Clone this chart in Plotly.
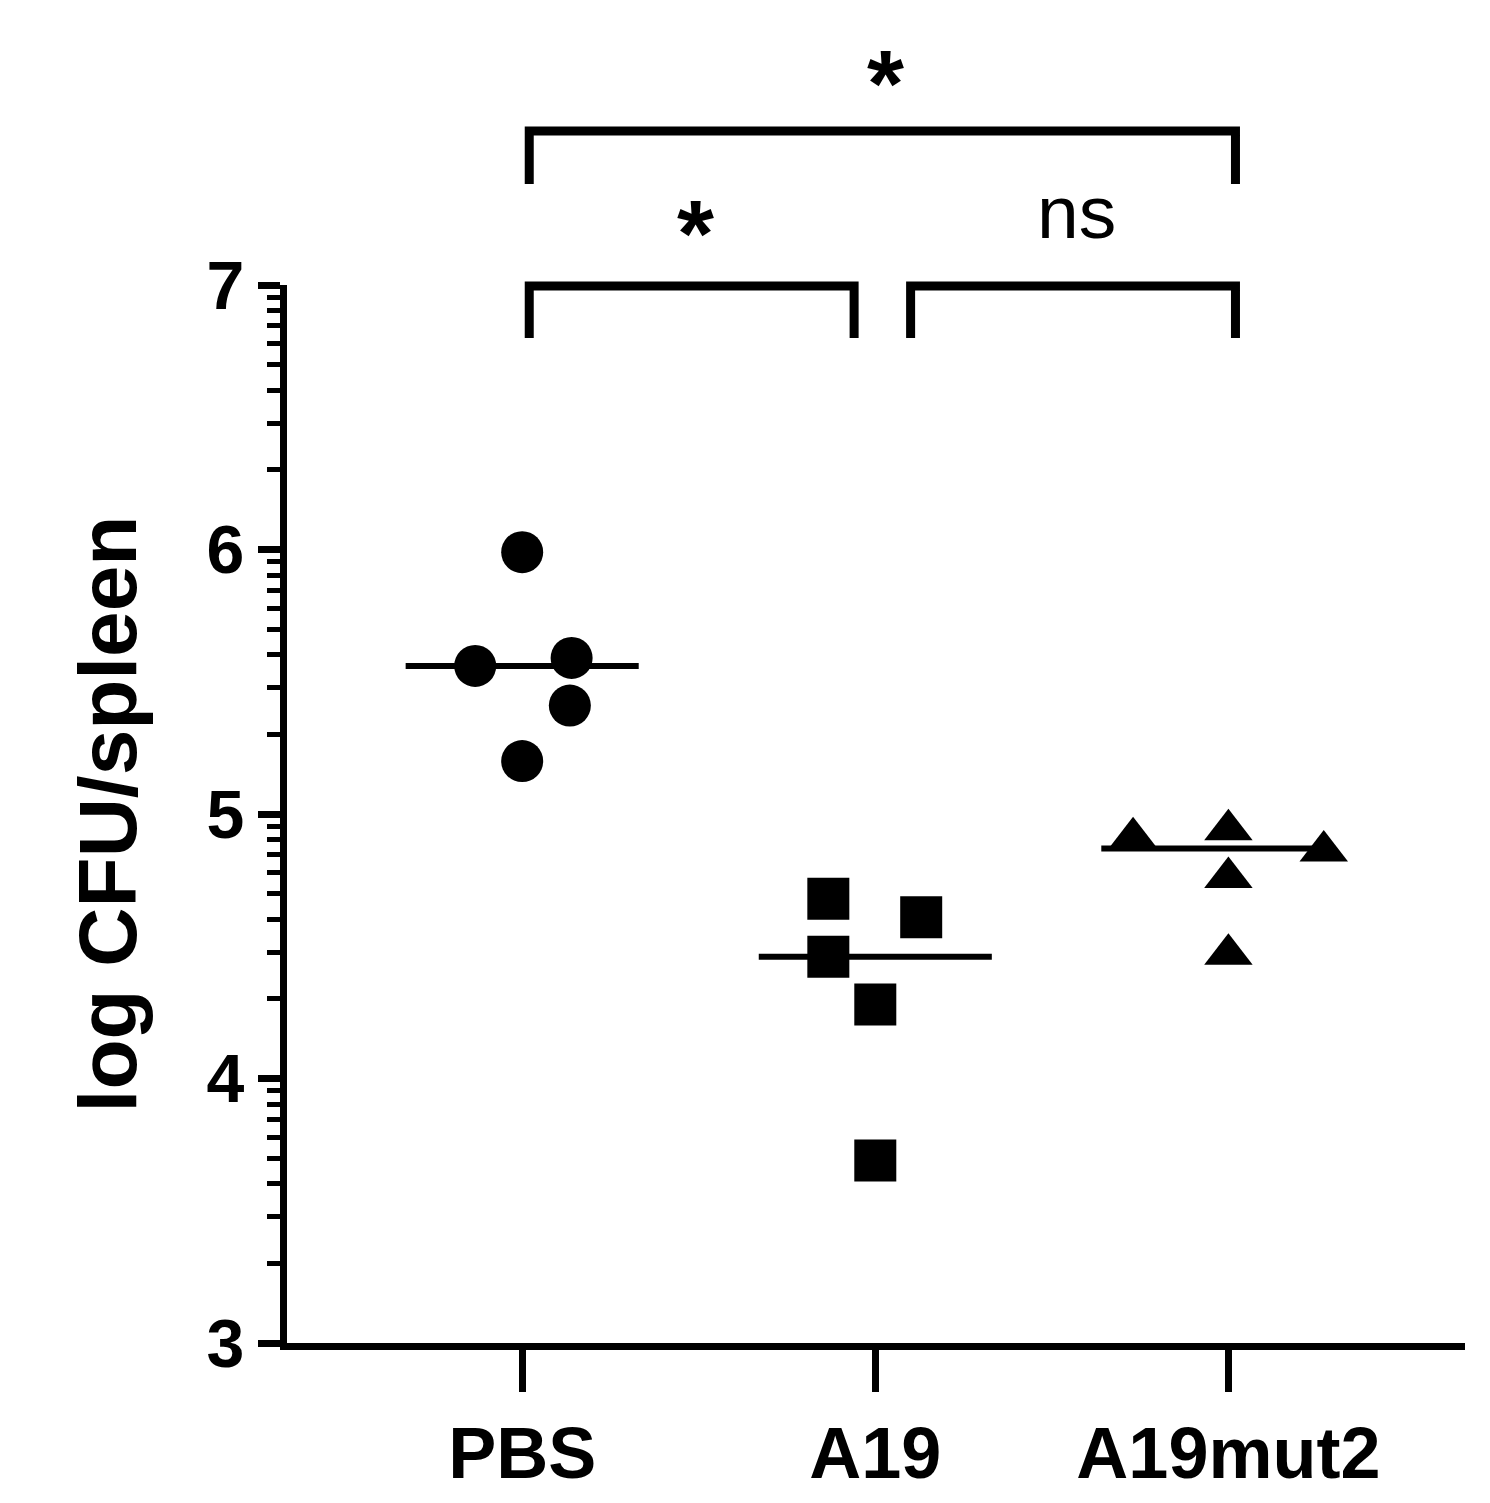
import plotly.graph_objects as go
import numpy as np

groups = ["PBS", "A19", "A19mut2"]
pbs_x = [0, -0.133, 0.14, 0.135, 0]
pbs_y = [5.99, 5.56, 5.59, 5.41, 5.20]
a19_x = [-0.133, 0.13, -0.133, 0, 0]
a19_y = [4.68, 4.61, 4.46, 4.28, 3.69]
mut_x = [-0.27, 0, 0.27, 0, 0]
mut_y = [4.91, 4.94, 4.86, 4.76, 4.47]
medians = [5.56, 4.46, 4.87]
med_half = [0.33, 0.33, 0.33]
med_off = [0.0, 0.0, -0.03]

fig = go.Figure()
mk = dict(color="black", size=42)
fig.add_trace(go.Scatter(x=pbs_x, y=pbs_y, mode="markers", marker=dict(symbol="circle", **mk)))
fig.add_trace(go.Scatter(x=[1 + v for v in a19_x], y=a19_y, mode="markers", marker=dict(symbol="square", **mk)))
fig.add_trace(go.Scatter(x=[2 + v for v in mut_x], y=mut_y, mode="markers", marker=dict(symbol="triangle-up", **mk)))
for i, m in enumerate(medians):
    fig.add_trace(go.Scatter(x=[i + med_off[i] - med_half[i], i + med_off[i] + med_half[i]], y=[m, m],
                             mode="lines", line=dict(color="black", width=6)))

def py(px):
    return (1345 - px) / 1058

def bracket(x0, x1, top, bot):
    fig.add_shape(type="path", xref="x", yref="paper",
                  path=f"M {x0},{py(bot)} L {x0},{py(top)} L {x1},{py(top)} L {x1},{py(bot)}",
                  line=dict(color="black", width=9))

bracket(0.02, 2.02, 133, 186)
bracket(0.02, 0.94, 288, 340)
bracket(1.1, 2.02, 288, 340)
for x, ypx, t, s in [(1.03, 30, "<b>*</b>", 95), (0.49, 180, "<b>*</b>", 95), (1.57, 170, "ns", 75)]:
    fig.add_annotation(x=x, y=py(ypx), xref="x", yref="paper", text=t, showarrow=False,
                       font=dict(size=s, color="black", family="Liberation Sans"))

minor_vals = [d + np.log10(k) for d in range(3, 7) for k in range(2, 10)]
fig.update_layout(
    width=1490, height=1503, showlegend=False,
    plot_bgcolor="white", paper_bgcolor="white",
    margin=dict(l=279, r=33, t=277, b=168),
    font=dict(family="Liberation Sans", color="black", size=50),
    xaxis=dict(range=[-0.666, 2.67], tickvals=[0, 1, 2], ticktext=["<b>PBS</b>", "<b>A19</b>", "<b>A19mut2</b>"],
               showgrid=False, zeroline=False, showline=True, linecolor="black", linewidth=7,
               ticks="outside", ticklen=42, tickwidth=7, tickcolor="black", tickfont=dict(size=72)),
    yaxis=dict(range=[3, 7], tickvals=[3, 4, 5, 6, 7], ticktext=["<b>%d</b>" % v for v in [3, 4, 5, 6, 7]],
               showgrid=False, zeroline=False, showline=True, linecolor="black", linewidth=7,
               ticks="outside", ticklen=22, tickwidth=7, tickcolor="black", tickfont=dict(size=68),
               title=dict(text="<b>log CFU/spleen</b>", font=dict(size=82), standoff=45),
               minor=dict(tickvals=minor_vals, ticks="outside", ticklen=13, tickwidth=5, tickcolor="black")),
)
fig.write_html("out.html")
